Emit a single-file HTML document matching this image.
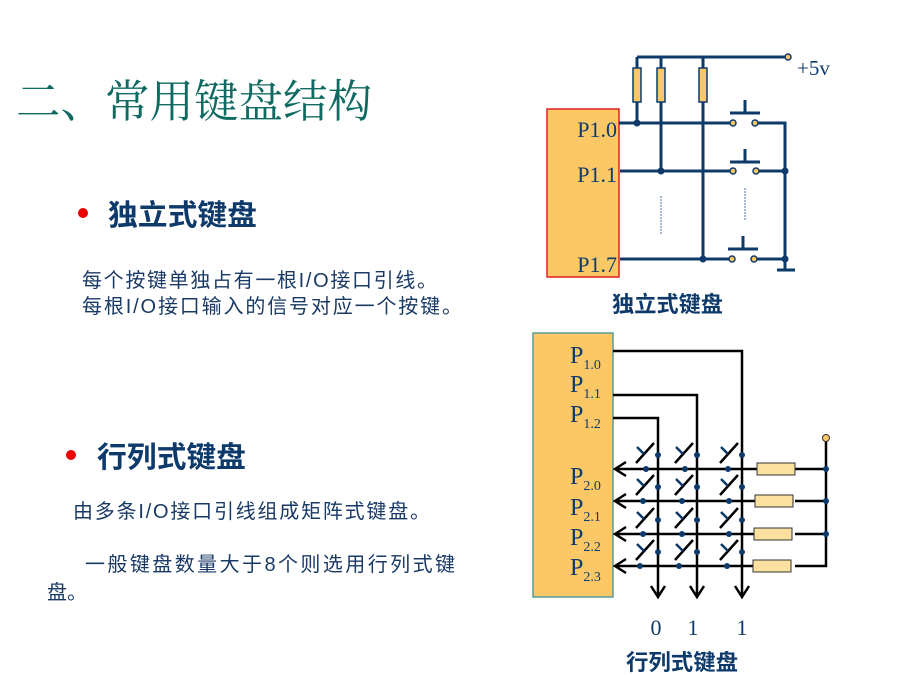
<!DOCTYPE html>
<html><head><meta charset="utf-8"><style>
body{margin:0;background:#fff;}
svg{display:block}
.cjk{font-family:"Liberation Sans","Noto Sans CJK SC",sans-serif;}
.ser{font-family:"Liberation Serif","Noto Serif CJK SC",serif;}
</style></head><body>
<svg width="900" height="675" viewBox="0 0 900 675" xmlns="http://www.w3.org/2000/svg">
<text x="16" y="117" font-family="Liberation Serif,'Noto Serif CJK SC',serif" font-size="45" fill="#0f6b62" textLength="356" lengthAdjust="spacingAndGlyphs">二、常用键盘结构</text>
<circle cx="83" cy="213" r="5" fill="#e00"/>
<text x="108" y="225" class="cjk" font-size="29" font-weight="bold" fill="#0d3a6b" textLength="149" lengthAdjust="spacingAndGlyphs">独立式键盘</text>
<text x="82" y="287" class="cjk" font-size="20" fill="#1a3a66" textLength="355">每个按键单独占有一根I/O接口引线。</text>
<text x="82" y="313" class="cjk" font-size="20" fill="#1a3a66" textLength="380">每根I/O接口输入的信号对应一个按键。</text>
<circle cx="71" cy="455" r="5" fill="#e00"/>
<text x="97" y="467" class="cjk" font-size="29" font-weight="bold" fill="#0d3a6b" textLength="149" lengthAdjust="spacingAndGlyphs">行列式键盘</text>
<text x="73" y="518" class="cjk" font-size="20" fill="#1a3a66" textLength="357">由多条I/O接口引线组成矩阵式键盘。</text>
<text x="85" y="571" class="cjk" font-size="20" fill="#1a3a66" textLength="370">一般键盘数量大于8个则选用行列式键</text>
<text x="47" y="599" class="cjk" font-size="20" fill="#1a3a66">盘。</text>

<!-- top diagram -->
<rect x="547" y="109" width="72" height="168" fill="#fcc866" stroke="#e02020" stroke-width="1.5"/>
<g class="ser" font-size="22" fill="#0d3a6b" text-anchor="end">
<text x="617" y="137">P1.0</text><text x="617" y="182">P1.1</text><text x="617" y="272">P1.7</text></g>
<text x="797" y="75" class="ser" font-size="21" fill="#0d3a6b">+5v</text>
<g stroke="#0d3a6b" stroke-width="3" fill="none">
<path d="M637 57H788"/>
<path d="M637 57V123M661 57V171M703 57V259"/>
<path d="M619 123H733M755 123H785V259"/>
<path d="M620 171H733M755 171H785"/>
<path d="M620 259H733M755 259H785"/>
<path d="M777 270H795M785 259V270"/>
<path d="M730 113H760M745 100V113"/>
<path d="M730 162H760M745 149V162"/>
<path d="M728 249H758M743 236V249"/>
</g>
<g stroke="#8aa0c0" stroke-width="1.5" stroke-dasharray="2,1"><path d="M661 196V235M745 188V220"/></g>
<g fill="#fcc866" stroke="#0d3a6b" stroke-width="1.5">
<rect x="633" y="68" width="8" height="34"/><rect x="657" y="68" width="8" height="34"/><rect x="699" y="68" width="8" height="34"/>
<circle cx="788" cy="57" r="3"/>
<circle cx="733" cy="123" r="3"/><circle cx="755" cy="123" r="3"/>
<circle cx="733" cy="171" r="3"/><circle cx="756" cy="171" r="3"/>
<circle cx="732" cy="259" r="3"/><circle cx="754" cy="259" r="3"/>
</g>
<g fill="#0d3a6b"><circle cx="637" cy="123" r="3.5"/><circle cx="661" cy="171" r="3.5"/><circle cx="703" cy="259" r="3.5"/><circle cx="785" cy="171" r="3.5"/><circle cx="785" cy="259" r="3.5"/></g>
<text x="612" y="312" class="cjk" font-size="22" font-weight="bold" fill="#0d3a6b" textLength="111" lengthAdjust="spacingAndGlyphs">独立式键盘</text>

<!-- bottom diagram -->
<rect x="533" y="333" width="80" height="264" fill="#fcc866" stroke="#5a9a9a" stroke-width="1.5"/>
<g class="ser" font-size="24" fill="#0d3a6b">
<text x="570" y="363">P<tspan font-size="14" dy="6">1.0</tspan></text>
<text x="570" y="392">P<tspan font-size="14" dy="6">1.1</tspan></text>
<text x="570" y="422">P<tspan font-size="14" dy="6">1.2</tspan></text>
<text x="570" y="484">P<tspan font-size="14" dy="6">2.0</tspan></text>
<text x="570" y="515">P<tspan font-size="14" dy="6">2.1</tspan></text>
<text x="570" y="545">P<tspan font-size="14" dy="6">2.2</tspan></text>
<text x="570" y="575">P<tspan font-size="14" dy="6">2.3</tspan></text>
</g>
<g stroke="#000" stroke-width="2.5" fill="none">
<path d="M613 351H742V596M613 395H697V596M613 418H658V596"/>
<path d="M651 586L658 597L665 586M690 586L697 597L704 586M735 586L742 597L749 586"/>
<path d="M615 469H757M795 469H826M615 501H757M795 501H826M615 534H757M795 534H826M615 566H757M795 566H826V440"/>
<path d="M626 462L615 469L626 476M626 494L615 501L626 508M626 527L615 534L626 541M626 559L615 566L626 573"/>
</g>
<g fill="#fbe0a0" stroke="#333" stroke-width="1">
<rect x="757" y="463" width="38" height="12"/><rect x="755" y="495" width="38" height="12"/><rect x="754" y="528" width="38" height="12"/><rect x="753" y="560" width="38" height="12"/>
</g>
<circle cx="826" cy="438" r="3.5" fill="#fcc866" stroke="#333"/>
<g fill="#0d3a6b"><circle cx="826" cy="469" r="3"/><circle cx="826" cy="501" r="3"/><circle cx="826" cy="534" r="3"/></g>
<g stroke-width="2.5">
<g stroke="#000">
<path d="M636 463L654 443M675 463L693 443M720 463L738 443"/>
<path d="M636 495L654 475M675 495L693 475M720 495L738 475"/>
<path d="M636 528L654 508M675 528L693 508M720 528L738 508"/>
<path d="M636 560L654 540M675 560L693 540M720 560L738 540"/>
</g>
<g stroke="#0d3a6b">
<path d="M637 447L644 454M676 447L683 454M721 447L728 454"/>
<path d="M637 479L644 486M676 479L683 486M721 479L728 486"/>
<path d="M637 512L644 519M676 512L683 519M721 512L728 519"/>
<path d="M637 544L644 551M676 544L683 551M721 544L728 551"/>
</g>
</g>
<g fill="#0d3a6b">
<circle cx="658" cy="455" r="3"/><circle cx="697" cy="455" r="3"/><circle cx="742" cy="455" r="3"/>
<circle cx="658" cy="487" r="3"/><circle cx="697" cy="487" r="3"/><circle cx="742" cy="487" r="3"/>
<circle cx="658" cy="520" r="3"/><circle cx="697" cy="520" r="3"/><circle cx="742" cy="520" r="3"/>
<circle cx="658" cy="552" r="3"/><circle cx="697" cy="552" r="3"/><circle cx="742" cy="552" r="3"/>
<circle cx="646" cy="469" r="3"/><circle cx="685" cy="469" r="3"/><circle cx="728" cy="469" r="3"/>
<circle cx="643" cy="501" r="3"/><circle cx="682" cy="501" r="3"/><circle cx="729" cy="501" r="3"/>
<circle cx="643" cy="534" r="3"/><circle cx="682" cy="534" r="3"/><circle cx="729" cy="534" r="3"/>
<circle cx="640" cy="566" r="3"/><circle cx="679" cy="566" r="3"/><circle cx="727" cy="566" r="3"/>
</g>
<g class="ser" font-size="22" fill="#0d3a6b" text-anchor="middle">
<text x="656" y="635">0</text><text x="693" y="635">1</text><text x="742" y="635">1</text></g>
<text x="626" y="670" class="cjk" font-size="22" font-weight="bold" fill="#0d3a6b" textLength="112" lengthAdjust="spacingAndGlyphs">行列式键盘</text>
</svg>
</body></html>
